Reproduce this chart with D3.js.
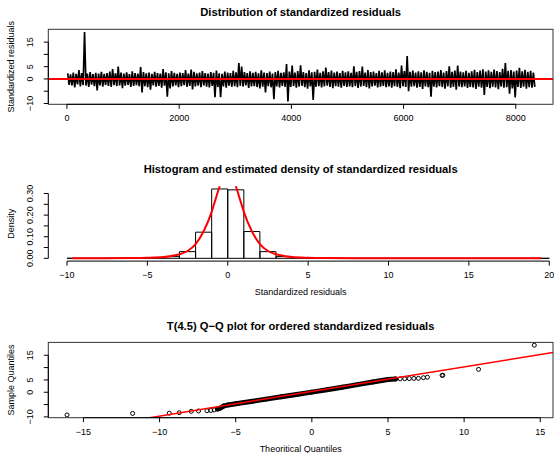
<!DOCTYPE html>
<html>
<head>
<meta charset="utf-8">
<script src="https://cdn.jsdelivr.net/npm/d3@7"></script>
<style>
	body { margin: 0; background: #fff; }
	svg { display: block; font-family: "Liberation Sans", Arial, Helvetica, sans-serif; }
</style>
</head>
<body>
<div id="chart"></div>
<script>
// ---------- data ----------

// residual series, summarised as max / min of every block of 50 observations
const nObs = 8330;
const blockSize = 50;
const residUpper = [
	2.3, 1.9, 2.6, 2.1, 3.6, 2.4, 19.1, 2.2, 2.8, 2.0,
	2.5, 2.2, 2.9, 2.1, 2.4, 3.0, 4.0, 2.3, 5.0, 2.6,
	2.2, 2.7, 2.0, 3.1, 2.4, 2.2, 4.9, 2.8, 2.3, 2.6,
	2.1, 2.9, 2.4, 2.2, 4.0, 2.7, 2.3, 3.2, 2.5, 2.1,
	2.6, 2.4, 3.6, 2.2, 3.8, 2.9, 2.3, 2.6, 3.2, 2.4,
	2.2, 2.8, 2.5, 3.4, 2.3, 2.1, 3.0, 2.6, 2.4, 3.3,
	2.7, 6.5, 5.0, 2.8, 2.4, 3.1, 2.5, 2.9, 2.3, 3.5,
	2.6, 2.4, 3.0, 2.2, 2.8, 3.3, 2.5, 2.7, 6.1, 3.0,
	5.5, 2.6, 3.2, 5.6, 2.8, 2.4, 3.5, 2.7, 2.9, 3.8,
	2.5, 3.1, 4.6, 2.8, 3.4, 2.6, 3.0, 2.4, 3.3, 2.7,
	3.1, 2.5, 5.2, 2.9, 3.2, 5.0, 2.6, 3.6, 2.8, 3.0,
	2.4, 3.3, 2.7, 3.5, 2.5, 3.0, 2.8, 3.9, 2.6, 5.5,
	3.2, 9.3, 2.9, 3.4, 2.6, 3.1, 2.7, 3.5, 2.9, 2.5,
	3.3, 2.8, 3.0, 3.6, 2.6, 3.2, 5.2, 2.9, 3.4, 5.5,
	3.0, 2.7, 3.3, 2.5, 3.1, 3.7, 2.8, 3.4, 3.9, 3.0,
	3.5, 2.9, 3.8, 3.2, 2.8, 4.1, 6.5, 3.3, 3.6, 3.0,
	3.4, 4.5, 3.1, 3.7, 2.9, 3.3, 2.6
];
const residLower = [
	-2.4, -2.6, -3.5, -2.2, -3.0, -2.5, -2.7, -3.2, -2.3, -2.9,
	-4.7, -2.6, -3.1, -2.4, -2.8, -3.3, -2.5, -2.9, -2.6, -3.8,
	-2.7, -2.4, -3.2, -2.8, -2.5, -3.0, -5.5, -2.9, -3.4, -4.4,
	-2.6, -3.1, -2.8, -3.6, -2.7, -7.2, -3.9, -3.0, -2.6, -3.3,
	-2.9, -2.5, -3.2, -2.8, -4.3, -3.0, -2.7, -3.4, -2.6, -3.1,
	-3.5, -2.8, -7.4, -3.3, -7.4, -3.0, -3.6, -2.7, -3.2, -2.9,
	-3.4, -2.8, -3.1, -2.6, -3.7, -3.0, -2.9, -3.3, -3.9, -3.1,
	-5.5, -2.9, -3.4, -8.3, -3.0, -3.5, -2.8, -3.2, -9.2, -3.3,
	-2.9, -3.6, -3.1, -2.8, -3.4, -4.0, -3.0, -8.6, -3.2, -2.9,
	-3.5, -3.0, -2.7, -3.3, -3.8, -2.9, -3.1, -3.6, -2.8, -3.2,
	-3.0, -3.4, -2.9, -3.7, -3.1, -2.8, -3.3, -3.9, -3.0, -2.7,
	-3.5, -3.1, -2.8, -3.4, -3.0, -3.6, -2.9, -3.2, -3.8, -3.0,
	-3.3, -5.0, -3.1, -2.9, -3.6, -3.2, -4.1, -3.0, -3.4, -7.2,
	-3.1, -3.5, -2.9, -3.3, -4.0, -3.0, -3.6, -3.2, -4.4, -3.1,
	-3.4, -3.0, -3.7, -3.2, -3.5, -4.1, -3.1, -3.6, -6.5, -3.3,
	-3.8, -3.2, -3.5, -4.2, -3.1, -3.6, -3.4, -6.0, -3.9, -7.5,
	-3.3, -3.7, -3.1, -4.0, -3.4, -3.6, -3.2
];
const seriesXTicks = [0, 2000, 4000, 6000, 8000];
const residYTicks = [-10, -5, 0, 5, 10, 15];
const residYLabels = ["−10", "", "0", "5", "", "15"];

// histogram (density scale) and the estimated density curve
const histBreaks = [-10, -9, -8, -7, -6, -5, -4, -3, -2, -1, 0, 1, 2, 3, 4, 5, 6, 7, 8, 9,
	10, 11, 12, 13, 14, 15, 16, 17, 18, 19, 20];
const histDensity = [0.0002, 0.0002, 0.0004, 0.0006, 0.0012, 0.003, 0.008, 0.031, 0.121, 0.321,
	0.317, 0.124, 0.031, 0.008, 0.003, 0.0012, 0.0005, 0.0002, 0.0002, 0.0001,
	0.0001, 0, 0, 0, 0, 0, 0, 0, 0, 0.0001];
const histXLim = [-10, 19.07];
const densX = [-9.7, -8, -6, -5, -4, -3.5, -3, -2.5, -2, -1.5, -1, -0.75, -0.5, -0.25, 0,
	0.25, 0.5, 0.75, 1, 1.5, 2, 2.5, 3, 3.5, 4, 5, 6, 8, 10, 13, 16, 19.5];
const densY = [0.0003, 0.0005, 0.0012, 0.0025, 0.006, 0.011, 0.019, 0.034, 0.066, 0.125, 0.215, 0.275, 0.335, 0.385, 0.405,
	0.385, 0.335, 0.275, 0.215, 0.125, 0.066, 0.034, 0.019, 0.011, 0.006, 0.0025, 0.0012, 0.0006, 0.0004, 0.0002, 0.0002, 0.0001];
const histXTicks = [-10, -5, 0, 5, 10, 15, 20];
const histYTicks = [0, 0.05, 0.1, 0.15, 0.2, 0.25, 0.3];
const histYLabels = ["0.00", "", "0.10", "", "0.20", "", "0.30"];

// Q-Q plot against T(4.5): theoretical vs ordered sample quantiles
const qqTheoretical = [-16.08, -11.77, -9.36, -8.71, -7.92, -7.44, -6.89, -6.63, -6.41,
	-6.2, -6.0, -5.8, -5.5, -5.0, -4.0, -3.0, -2.0, -1.0, 0.0, 1.0, 2.0, 3.0, 4.0, 5.0, 5.5,
	5.8, 6.1, 6.4, 6.7, 7.0, 7.33, 7.59, 8.55, 8.6, 10.95, 14.61];
const qqSample = [-9.2, -8.6, -8.5, -8.3, -7.75, -7.6, -7.5, -7.4, -7.2,
	-6.8, -6.4, -5.6, -5.15, -4.7, -3.75, -2.8, -1.85, -0.9, 0.05, 1.05, 2.05, 3.1, 4.15, 5.2, 5.4,
	5.45, 5.5, 5.55, 5.6, 5.65, 5.9, 6.1, 6.85, 6.9, 9.3, 19.1];
const qqDenseFrom = -6.2, qqDenseTo = 5.5;
const qqLine = { intercept: 0.3, slope: 1.0 };
const qqXTicks = [-15, -10, -5, 0, 5, 10, 15];

// ---------- layout ----------
const width = 554, height = 453;
const plotLeft = 48.3, plotRight = 553;
const panels = [
	{ top: 29.3, bottom: 104.3, title: "Distribution of standardized residuals", titleY: 16 },
	{ top: 186.2, bottom: 261.1, title: "Histogram and estimated density of standardized residuals", titleY: 173 },
	{ top: 342.4, bottom: 417.7, title: "T(4.5) Q−Q plot for ordered standardized residuals", titleY: 330 }
];
const tickLen = 4.5;

// R style axis range: data range stretched by 4 %
function rExtend(lo, hi) {
	const pad = (hi - lo) * 0.04;
	return [lo - pad, hi + pad];
}

const svg = d3.select("#chart").append("svg")
	.attr("width", width)
	.attr("height", height);

panels.forEach((p, i) => {
	svg.append("clipPath")
		.attr("id", "clip" + i)
		.append("rect")
		.attr("x", plotLeft)
		.attr("y", p.top)
		.attr("width", plotRight - plotLeft)
		.attr("height", p.bottom - p.top);

	svg.append("text")
		.attr("x", (plotLeft + plotRight) / 2)
		.attr("y", p.titleY)
		.attr("text-anchor", "middle")
		.attr("font-weight", "bold")
		.attr("font-size", "11.2px")
		.text(p.title);
});

function bottomAxis(scale, ticks, labels, y) {
	const g = svg.append("g");
	g.append("line")
		.attr("x1", scale(ticks[0])).attr("x2", scale(ticks[ticks.length - 1]))
		.attr("y1", y).attr("y2", y)
		.attr("stroke", "#000");
	ticks.forEach((t, i) => {
		g.append("line")
			.attr("x1", scale(t)).attr("x2", scale(t))
			.attr("y1", y).attr("y2", y + tickLen)
			.attr("stroke", "#000");
		g.append("text")
			.attr("x", scale(t))
			.attr("y", y + 16.8)
			.attr("text-anchor", "middle")
			.attr("font-size", "9px")
			.text(labels[i]);
	});
}

function leftAxis(scale, ticks, labels) {
	const g = svg.append("g");
	g.append("line")
		.attr("x1", plotLeft).attr("x2", plotLeft)
		.attr("y1", scale(ticks[0])).attr("y2", scale(ticks[ticks.length - 1]))
		.attr("stroke", "#000");
	ticks.forEach((t, i) => {
		g.append("line")
			.attr("x1", plotLeft - tickLen).attr("x2", plotLeft)
			.attr("y1", scale(t)).attr("y2", scale(t))
			.attr("stroke", "#000");
		if (labels[i]) {
			g.append("text")
				.attr("transform", `translate(33,${scale(t)}) rotate(-90)`)
				.attr("text-anchor", "middle")
				.attr("font-size", "9px")
				.text(labels[i]);
		}
	});
}

function yTitle(text, p) {
	svg.append("text")
		.attr("transform", `translate(14,${(p.top + p.bottom) / 2}) rotate(-90)`)
		.attr("text-anchor", "middle")
		.attr("font-size", "9px")
		.text(text);
}

function xTitle(text, p) {
	svg.append("text")
		.attr("x", (plotLeft + plotRight) / 2)
		.attr("y", p.bottom + 33.8)
		.attr("text-anchor", "middle")
		.attr("font-size", "9px")
		.text(text);
}

function box(p) {
	svg.append("rect")
		.attr("x", plotLeft).attr("y", p.top)
		.attr("width", plotRight - plotLeft).attr("height", p.bottom - p.top)
		.attr("fill", "none")
		.attr("stroke", "#333");
}

// ---------- panel 1: residual series ----------
const p1 = panels[0];
const residMin = d3.min(residLower), residMax = d3.max(residUpper);
const x1 = d3.scaleLinear().domain(rExtend(1, nObs)).range([plotLeft, plotRight]);
const y1 = d3.scaleLinear().domain(rExtend(residMin, residMax)).range([p1.bottom, p1.top]);

const seriesPoints = [];
residUpper.forEach((u, i) => {
	seriesPoints.push([i * blockSize + 14, u]);
	seriesPoints.push([i * blockSize + 39, residLower[i]]);
});
const seriesLine = d3.line()
	.x(d => x1(d[0]))
	.y(d => y1(d[1]));

// the 8000+ observations overlap into a solid band, so the line is drawn heavy
svg.append("path")
	.attr("d", seriesLine(seriesPoints))
	.attr("clip-path", "url(#clip0)")
	.attr("fill", "none")
	.attr("stroke", "#000")
	.attr("stroke-width", 1.7)
	.attr("stroke-linejoin", "miter");

svg.append("line")
	.attr("x1", plotLeft).attr("x2", plotRight)
	.attr("y1", y1(0)).attr("y2", y1(0))
	.attr("stroke", "#ff0000")
	.attr("stroke-width", 2);

box(p1);
bottomAxis(x1, seriesXTicks, seriesXTicks.map(String), p1.bottom);
leftAxis(y1, residYTicks, residYLabels);
yTitle("Standardized residuals", p1);

// ---------- panel 2: histogram + density ----------
const p2 = panels[1];
const x2 = d3.scaleLinear().domain(rExtend(histXLim[0], histXLim[1])).range([plotLeft, plotRight]);
const y2 = d3.scaleLinear().domain(rExtend(0, d3.max(histDensity))).range([p2.bottom, p2.top]);

svg.append("g")
	.selectAll("path")
	.data(histDensity)
	.join("path")
	.attr("d", (d, i) => {
		const xa = x2(histBreaks[i]), xb = x2(histBreaks[i + 1]);
		return `M${xa},${y2(0)}V${y2(d)}H${xb}V${y2(0)}Z`;
	})
	.attr("fill", "none")
	.attr("stroke", "#000")
	.attr("stroke-width", 1);

const densLine = d3.line()
	.x((d, i) => x2(densX[i]))
	.y(d => y2(d))
	.curve(d3.curveMonotoneX);

svg.append("path")
	.attr("d", densLine(densY))
	.attr("clip-path", "url(#clip1)")
	.attr("fill", "none")
	.attr("stroke", "#ff0000")
	.attr("stroke-width", 2);

bottomAxis(x2, histXTicks, histXTicks.map(t => t < 0 ? "−" + Math.abs(t) : String(t)), p2.bottom);
leftAxis(y2, histYTicks, histYLabels);
yTitle("Density", p2);
xTitle("Standardized residuals", p2);

// ---------- panel 3: Q-Q plot ----------
const p3 = panels[2];
const x3 = d3.scaleLinear().domain(rExtend(d3.min(qqTheoretical), d3.max(qqTheoretical))).range([plotLeft, plotRight]);
const y3 = d3.scaleLinear().domain(rExtend(d3.min(qqSample), d3.max(qqSample))).range([p3.bottom, p3.top]);

const qqPoints = qqTheoretical.map((t, i) => [t, qqSample[i]]);
const densePoints = qqPoints.filter(d => d[0] >= qqDenseFrom && d[0] <= qqDenseTo);

// thousands of overlapping circles in the middle merge into one thick band
svg.append("path")
	.attr("d", d3.line().x(d => x3(d[0])).y(d => y3(d[1]))(densePoints))
	.attr("fill", "none")
	.attr("stroke", "#000")
	.attr("stroke-width", 5)
	.attr("stroke-linecap", "round");

svg.append("g")
	.selectAll("circle")
	.data(qqPoints)
	.join("circle")
	.attr("cx", d => x3(d[0]))
	.attr("cy", d => y3(d[1]))
	.attr("r", 2)
	.attr("fill", "none")
	.attr("stroke", "#000")
	.attr("stroke-width", 1);

const qqXDomain = x3.domain();
svg.append("line")
	.attr("clip-path", "url(#clip2)")
	.attr("x1", x3(qqXDomain[0])).attr("y1", y3(qqLine.intercept + qqLine.slope * qqXDomain[0]))
	.attr("x2", x3(qqXDomain[1])).attr("y2", y3(qqLine.intercept + qqLine.slope * qqXDomain[1]))
	.attr("stroke", "#ff0000")
	.attr("stroke-width", 1.5);

box(p3);
bottomAxis(x3, qqXTicks, qqXTicks.map(t => t < 0 ? "−" + Math.abs(t) : String(t)), p3.bottom);
leftAxis(y3, residYTicks, residYLabels);
yTitle("Sample Quantiles", p3);
xTitle("Theoritical Quantiles", p3);
</script>
</body>
</html>
